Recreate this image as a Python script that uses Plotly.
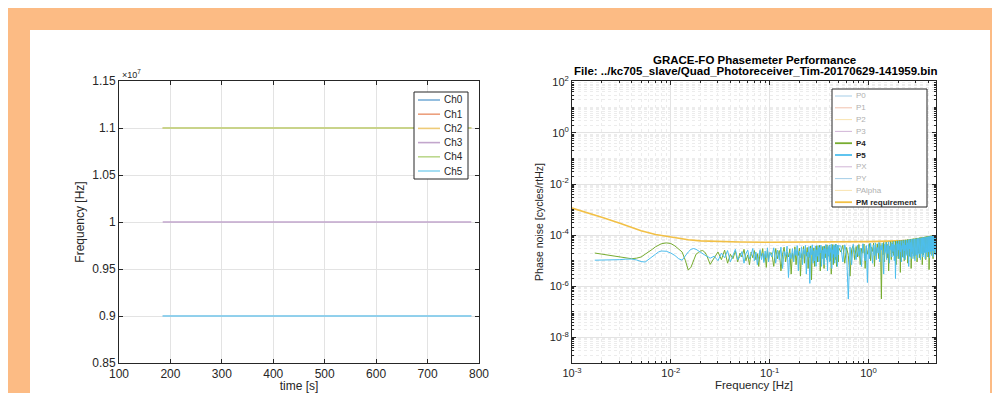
import plotly.graph_objects as go

# ---------------- data: left panel (channel frequencies) ----------------
channels = ["Ch0", "Ch1", "Ch2", "Ch3", "Ch4", "Ch5"]
time_s = [185, 285, 385, 485, 585, 685, 785]
ch_freq_hz = [9.0e6, 1.1e7, 1.1e7, 1.0e7, 1.1e7, 9.0e6]
left_y_ticks = [0.85e7, 0.9e7, 0.95e7, 1.0e7, 1.05e7, 1.1e7, 1.15e7]
left_y_ticktext = ["0.85", "0.9", "0.95", "1", "1.05", "1.1", "1.15"]

# ---------------- data: right panel (phase noise spectra) ----------------
freq_hz = [
    0.0017, 0.002, 0.0025, 0.003, 0.0035, 0.004, 0.0045, 0.005, 0.0055, 0.006,
    0.0065, 0.007, 0.0075, 0.008, 0.009, 0.01, 0.011, 0.012, 0.013, 0.014,
    0.015, 0.016, 0.017, 0.018, 0.019, 0.02, 0.021, 0.022, 0.023, 0.024, 0.025,
    0.0275, 0.03, 0.0325, 0.035, 0.0375, 0.04, 0.0425, 0.045, 0.0475, 0.05,
    0.0525, 0.055, 0.0575, 0.06, 0.0625, 0.065, 0.0675, 0.07, 0.0725, 0.075,
    0.0775, 0.08, 0.0825, 0.085, 0.0875, 0.09, 0.0925, 0.095, 0.0975, 0.1,
    0.105, 0.11, 0.115, 0.12, 0.125, 0.13, 0.135, 0.14, 0.145, 0.15,
    0.155, 0.16, 0.165, 0.17, 0.175, 0.18, 0.185, 0.19, 0.195, 0.2,
    0.205, 0.21, 0.215, 0.22, 0.225, 0.23, 0.235, 0.24, 0.245, 0.25,
    0.255, 0.26, 0.265, 0.27, 0.275, 0.28, 0.285, 0.29, 0.295, 0.3,
    0.305, 0.31, 0.315, 0.32, 0.325, 0.33, 0.335, 0.34, 0.345, 0.35,
    0.355, 0.36, 0.365, 0.37, 0.375, 0.38, 0.385, 0.39, 0.395, 0.4,
    0.405, 0.41, 0.415, 0.42, 0.425, 0.43, 0.435, 0.44, 0.445, 0.45,
    0.455, 0.46, 0.465, 0.47, 0.475, 0.48, 0.485, 0.49, 0.495, 0.5,
    0.525, 0.55, 0.575, 0.6, 0.625, 0.65, 0.675, 0.7, 0.725, 0.75,
    0.775, 0.8, 0.825, 0.85, 0.875, 0.9, 0.925, 0.95, 0.975, 1.0,
    1.025, 1.05, 1.075, 1.1, 1.125, 1.15, 1.175, 1.2, 1.225, 1.25,
    1.275, 1.3, 1.325, 1.35, 1.375, 1.4, 1.425, 1.45, 1.475, 1.5,
    1.525, 1.55, 1.575, 1.6, 1.625, 1.65, 1.675, 1.7, 1.725, 1.75,
    1.775, 1.8, 1.825, 1.85, 1.875, 1.9, 1.925, 1.95, 1.975, 2.0,
    2.025, 2.05, 2.075, 2.1, 2.125, 2.15, 2.175, 2.2, 2.225, 2.25,
    2.275, 2.3, 2.325, 2.35, 2.375, 2.4, 2.425, 2.45, 2.475, 2.5,
    2.525, 2.55, 2.575, 2.6, 2.625, 2.65, 2.675, 2.7, 2.725, 2.75,
    2.775, 2.8, 2.825, 2.85, 2.875, 2.9, 2.925, 2.95, 2.975, 3.0,
    3.025, 3.05, 3.075, 3.1, 3.125, 3.15, 3.175, 3.2, 3.225, 3.25,
    3.275, 3.3, 3.325, 3.35, 3.375, 3.4, 3.425, 3.45, 3.475, 3.5,
    3.525, 3.55, 3.575, 3.6, 3.625, 3.65, 3.675, 3.7, 3.725, 3.75,
    3.775, 3.8, 3.825, 3.85, 3.875, 3.9, 3.925, 3.95, 3.975, 4.0,
    4.025, 4.05, 4.075, 4.1, 4.125, 4.15, 4.175, 4.2, 4.225, 4.25,
    4.275, 4.3, 4.325, 4.35, 4.375, 4.4, 4.425, 4.45, 4.475, 4.5,
    4.525, 4.55, 4.575, 4.6, 4.625, 4.65, 4.675, 4.7, 4.725, 4.75,
    4.775, 4.8, 4.825, 4.85, 4.875, 4.9, 4.925, 4.95, 4.975, 5.0,
]

p4_noise = [
    2.0e-5, 1.8e-5, 1.6e-5, 1.4e-5, 1.26e-5, 1.2e-5, 1.26e-5, 1.4e-5, 1.8e-5, 2.2e-5,
    2.8e-5, 3.5e-5, 4.2e-5, 4.6e-5, 5.0e-5, 4.7e-5, 3.8e-5, 2.8e-5, 2.2e-5, 1.05e-5,
    4.3e-6, 5.6e-6, 1.1e-5, 1.8e-5, 2.1e-5, 2.4e-5, 2.5e-5, 2.2e-5, 1.66e-5, 1.1e-5, 7.2e-6,
    1.3e-5, 2.2e-5, 1.1e-5, 2.6e-5, 8e-6, 1.8e-5, 1.2e-5, 2.4e-5, 9e-6, 2.0e-5,
    1.4e-5, 2.8e-5, 1.0e-5, 1.7e-5, 7e-6, 2.2e-5, 1.3e-5, 2.5e-5, 1.1e-5, 1.9e-5,
    6e-6, 2.3e-5, 1.5e-5, 3.0e-5, 1.0e-5, 1.8e-5, 5.5e-6, 2.6e-5, 1.2e-5, 2.0e-5,
    2.0e-5, 6e-6, 3.0e-5, 1.2e-5, 2.5e-5, 4e-6, 1.8e-5, 3.4e-5, 9e-6, 2.2e-5,
    1.4e-5, 2.9e-5, 3e-6, 2.0e-5, 1.1e-5, 3.5e-5, 7e-6, 2.4e-5, 1.6e-5, 3.1e-5,
    2.5e-6, 1.9e-5, 1.2e-5, 3.6e-5, 8e-6, 2.7e-5, 1.5e-5, 3.3e-5, 5e-6, 2.1e-5,
    1.3e-5, 3.8e-5, 1.8e-6, 2.6e-5, 1.0e-5, 3.2e-5, 6e-6, 2.3e-5, 1.4e-5, 3.9e-5,
    9e-6, 3.1e-5, 1.7e-5, 4.0e-5, 4e-6, 2.5e-5, 1.2e-5, 3.6e-5, 2.0e-5, 3.0e-5,
    5e-6, 3.7e-5, 1.3e-5, 2.8e-5, 2.2e-5, 4.2e-5, 8e-6, 3.3e-5, 1.5e-5, 2.6e-5,
    4.1e-5, 1.0e-5, 2.9e-5, 3e-6, 3.5e-5, 1.9e-5, 4.3e-5, 7e-6, 3.0e-5, 1.6e-5,
    3.8e-5, 1.1e-5, 4.4e-5, 2.4e-5, 6e-6, 3.4e-5, 1.8e-5, 4.0e-5, 9e-6, 3.2e-5,
    2.2e-5, 4.0e-5, 8e-6, 3.3e-5, 1.6e-5, 2.5e-6, 2.8e-5, 3.9e-5, 1.1e-5, 3.6e-5,
    1.4e-5, 4.3e-5, 7e-6, 3.0e-5, 2.0e-5, 4.5e-5, 5e-6, 3.7e-5, 1.8e-5, 2.9e-5,
    4.7e-5, 1.0e-5, 3.4e-5, 2.3e-5, 4.9e-5, 6e-6, 3.9e-5, 1.5e-5, 4.6e-5, 2.6e-5,
    1.2e-5, 5.0e-5, 2.8e-5, 3.2e-7, 4.2e-5, 1.7e-5, 5.2e-5, 9e-6, 3.5e-5, 2.4e-5,
    5.4e-5, 1.3e-5, 4.4e-5, 4e-6, 3.7e-5, 2.9e-5, 5.6e-5, 1.1e-5, 4.8e-5, 2.0e-5,
    5.8e-5, 1.6e-5, 3.9e-5, 2.7e-5, 5.9e-5, 7e-6, 4.3e-5, 3.1e-5, 6.0e-5, 1.2e-5,
    4.5e-5, 2.1e-5, 6.2e-5, 3.5e-6, 5.0e-5, 3.3e-5, 6.3e-5, 1.4e-5, 4.0e-5, 2.8e-5,
    6.5e-5, 1.0e-5, 5.3e-5, 2.3e-5, 6.6e-5, 1.8e-5, 4.6e-5, 3.4e-5, 6.8e-5, 8e-6,
    5.1e-5, 2.6e-5, 6.9e-5, 1.5e-5, 4.4e-5, 3.6e-5, 7.1e-5, 5e-6, 5.5e-5, 2.7e-5,
    7.2e-5, 1.9e-5, 4.8e-5, 3.8e-5, 7.4e-5, 1.2e-5, 5.7e-5, 2.9e-5, 7.5e-5, 1.6e-5,
    5.0e-5, 3.9e-5, 7.7e-5, 9e-6, 5.9e-5, 3.0e-5, 7.8e-5, 2.0e-5, 5.2e-5, 4.0e-5,
    8.0e-5, 1.3e-5, 6.1e-5, 3.2e-5, 8.1e-5, 2.1e-5, 5.4e-5, 4.2e-5, 8.3e-5, 7e-6,
    6.3e-5, 3.3e-5, 8.4e-5, 1.7e-5, 5.6e-5, 4.3e-5, 8.6e-5, 2.2e-5, 6.5e-5, 3.4e-5,
    8.7e-5, 1.1e-5, 5.8e-5, 4.5e-5, 8.9e-5, 2.3e-5, 6.7e-5, 3.5e-5, 9.0e-5, 1.4e-5,
    6.0e-5, 4.6e-5, 9.2e-5, 4.5e-6, 6.9e-5, 3.6e-5, 9.3e-5, 2.4e-5, 6.2e-5, 4.8e-5,
    9.5e-5, 1.8e-5, 7.1e-5, 3.8e-5, 9.6e-5, 2.5e-5, 6.4e-5, 4.9e-5, 9.7e-5, 1.2e-5,
    7.3e-5, 3.9e-5, 9.9e-5, 2.6e-5, 6.6e-5, 5.0e-5, 1.0e-4, 1.9e-5, 7.5e-5, 4.0e-5,
    1.0e-4, 2.7e-5, 6.8e-5, 5.1e-5, 1.0e-4, 1.5e-5, 7.7e-5, 4.1e-5, 1.0e-4, 2.8e-5,
]

p5_noise = [
    1.05e-5, 1.05e-5, 1.05e-5, 1.1e-5, 1.15e-5, 1.17e-5, 1.07e-5, 9.3e-6, 8.9e-6, 1.12e-5,
    1.4e-5, 1.8e-5, 2.2e-5, 2.4e-5, 2.35e-5, 2.0e-5, 1.6e-5, 1.2e-5, 1.05e-5, 1.6e-5,
    2.2e-5, 2.8e-5, 3.0e-5, 2.8e-5, 2.4e-5, 2.2e-5, 1.9e-5, 1.66e-5, 1.5e-5, 1.4e-5, 1.26e-5,
    1.5e-5, 1.0e-5, 2.0e-5, 1.3e-5, 2.5e-5, 9e-6, 1.6e-5, 2.8e-5, 1.1e-5, 1.4e-5,
    2.3e-5, 8e-6, 1.9e-5, 2.6e-5, 1.2e-5, 1.7e-5, 3.0e-5, 1.0e-5, 2.2e-5, 7e-6,
    1.5e-5, 2.7e-5, 1.1e-5, 2.0e-5, 8.5e-6, 2.4e-5, 1.3e-5, 3.2e-5, 9e-6, 2.1e-5,
    1.4e-5, 3.2e-5, 8e-6, 2.6e-5, 1.1e-5, 3.4e-5, 5e-6, 2.3e-5, 1.5e-5, 3.7e-5,
    2.2e-6, 2.0e-5, 1.2e-5, 3.0e-5, 9e-6, 2.8e-5, 1.6e-5, 3.9e-5, 4e-6, 2.4e-5,
    1.3e-5, 3.5e-5, 7e-6, 2.9e-5, 1.8e-5, 4.0e-5, 3e-6, 2.2e-5, 1.4e-5, 3.6e-5,
    1.3e-6, 3.1e-5, 1.7e-5, 4.2e-5, 8e-6, 2.5e-5, 1.0e-5, 3.8e-5, 6e-6, 2.7e-5,
    1.5e-5, 3.9e-5, 9e-6, 3.3e-5, 2.0e-5, 4.1e-5, 6e-6, 2.6e-5, 1.2e-5, 3.7e-5,
    7e-6, 3.0e-5, 1.9e-5, 4.3e-5, 1.1e-5, 2.8e-5, 4e-6, 3.6e-5, 1.6e-5, 4.0e-5,
    9e-6, 3.2e-5, 2.1e-5, 4.4e-5, 5e-6, 2.7e-5, 1.3e-5, 3.9e-5, 1.8e-5, 4.2e-5,
    8e-6, 3.4e-5, 1.4e-5, 4.5e-5, 2.2e-5, 3.1e-5, 6e-6, 4.1e-5, 1.7e-5, 3.8e-5,
    3.8e-5, 9e-6, 4.2e-5, 2.0e-5, 3.2e-7, 3.5e-5, 7e-6, 4.4e-5, 1.8e-5, 1.1e-5,
    4.0e-5, 1.5e-5, 3.1e-5, 6e-6, 4.6e-5, 2.2e-5, 1.0e-5, 3.9e-5, 1.4e-6, 4.3e-5,
    1.2e-5, 4.8e-5, 2.5e-5, 8e-6, 4.1e-5, 1.6e-5, 5.0e-5, 1.1e-5, 3.3e-5, 2.0e-5,
    5.2e-5, 9e-6, 3.8e-5, 2.6e-5, 4.9e-5, 1.3e-5, 3.0e-6, 4.4e-5, 2.1e-5, 5.3e-5,
    1.1e-5, 4.0e-5, 1.9e-5, 5.5e-5, 8e-6, 3.6e-5, 2.7e-5, 5.1e-5, 1.4e-5, 4.5e-5,
    2.3e-5, 5.7e-5, 1.0e-5, 4.2e-5, 2.0e-6, 3.4e-5, 5.8e-5, 1.5e-5, 4.7e-5, 2.6e-5,
    6.0e-5, 1.2e-5, 4.4e-5, 2.2e-5, 6.1e-5, 9e-6, 3.9e-5, 2.8e-5, 6.2e-5, 1.3e-5,
    4.8e-5, 2.4e-5, 6.4e-5, 1.1e-5, 4.1e-5, 3.0e-5, 6.5e-5, 1.6e-5, 5.0e-5, 2.5e-5,
    6.6e-5, 6e-6, 4.6e-5, 2.9e-5, 6.8e-5, 1.4e-5, 5.2e-5, 2.2e-5, 6.9e-5, 1.2e-5,
    4.3e-5, 3.2e-5, 7.0e-5, 1.5e-5, 5.4e-5, 2.6e-5, 7.1e-5, 1.0e-5, 4.9e-5, 3.3e-5,
    7.3e-5, 1.7e-5, 5.6e-5, 2.4e-5, 7.4e-5, 1.3e-5, 4.5e-5, 3.5e-5, 7.5e-5, 1.8e-5,
    5.8e-5, 2.8e-5, 7.7e-5, 1.1e-5, 5.1e-5, 3.6e-5, 7.8e-5, 1.9e-5, 6.0e-5, 2.7e-5,
    8.0e-5, 1.4e-5, 5.5e-5, 3.8e-5, 8.1e-5, 2.0e-5, 6.2e-5, 2.9e-5, 8.3e-5, 1.2e-5,
    5.3e-5, 4.0e-5, 8.5e-5, 2.1e-5, 6.4e-5, 3.1e-5, 8.6e-5, 1.5e-5, 5.7e-5, 4.1e-5,
    8.8e-5, 2.2e-5, 6.6e-5, 3.2e-5, 8.9e-5, 1.3e-5, 5.9e-5, 4.3e-5, 9.1e-5, 2.3e-5,
    6.8e-5, 3.4e-5, 9.2e-5, 1.6e-5, 6.1e-5, 4.4e-5, 9.4e-5, 2.4e-5, 7.0e-5, 3.5e-5,
    9.5e-5, 1.4e-5, 6.3e-5, 4.6e-5, 9.7e-5, 2.5e-5, 7.2e-5, 3.6e-5, 9.8e-5, 1.7e-5,
    6.5e-5, 4.7e-5, 1.0e-4, 2.6e-5, 7.4e-5, 3.7e-5, 1.0e-4, 1.5e-5, 6.7e-5, 4.8e-5,
]

req_freq_hz = [0.001, 0.0015, 0.002, 0.003, 0.004, 0.005, 0.007, 0.01, 0.015, 0.02,
               0.03, 0.05, 0.1, 0.2, 0.5, 1.0, 2.0, 5.0]
req_noise = [1.15e-3, 7.2e-4, 5.0e-4, 3.0e-4, 2.0e-4, 1.5e-4, 1.07e-4, 8.3e-5, 6.6e-5, 6.0e-5,
             5.6e-5, 5.4e-5, 5.25e-5, 5.25e-5, 5.4e-5, 5.6e-5, 6.0e-5, 6.6e-5]

right_legend_names = ["P0", "P1", "P2", "P3", "P4", "P5", "PX", "PY", "PAlpha", "PM requirement"]
right_legend_shown = [False, False, False, False, True, True, False, False, False, True]

# ---------------- styling ----------------
# The page body keeps its default 8px margin, so the figure is sized to fill the
# rest of the 1000x401 window and screen pixels are mapped into figure space.
OFF = 8
W, H = 1000 - 2 * OFF, 401 - 2 * OFF
ch_colors = ["#7aaed8", "#eca07e", "#eecb78", "#c2a6cc", "#bcd88e", "#8fd6f0"]
right_colors = ["#0072BD", "#D95319", "#EDB120", "#7E2F8E", "#77AC30", "#4DBEEE",
                "#7E2F8E", "#0072BD", "#EDB120", "#F2C046"]
ORANGE = "#FCBB84"
FONT = "Liberation Sans, Arial, sans-serif"
AXC = "#262626"


def px(x):
    return (x - OFF) / W


def py(y):
    return 1 - (y - OFF) / H


fig = go.Figure()

for name, val, col in zip(channels, ch_freq_hz, ch_colors):
    fig.add_trace(go.Scatter(x=time_s, y=[val] * len(time_s), mode="lines", name=name,
                             line=dict(color=col, width=1.6), xaxis="x", yaxis="y",
                             showlegend=False))

fig.add_trace(go.Scatter(x=req_freq_hz, y=req_noise, mode="lines", name="PM requirement",
                         line=dict(color=right_colors[9], width=1.6), xaxis="x2", yaxis="y2",
                         showlegend=False))
fig.add_trace(go.Scatter(x=freq_hz, y=p4_noise, mode="lines", name="P4",
                         line=dict(color=right_colors[4], width=1), xaxis="x2", yaxis="y2",
                         showlegend=False))
fig.add_trace(go.Scatter(x=freq_hz, y=p5_noise, mode="lines", name="P5",
                         line=dict(color=right_colors[5], width=1), xaxis="x2", yaxis="y2",
                         showlegend=False))

ydom = [py(363), py(81)]

common = dict(showline=True, linecolor=AXC, linewidth=1, mirror="ticks", ticks="inside",
              ticklen=4, tickcolor=AXC, gridcolor="#e3e3e3", gridwidth=1, zeroline=False)
left_tickfont = dict(family=FONT, size=12, color=AXC)
right_tickfont = dict(family=FONT, size=11, color=AXC)

minor_x = [m * 10 ** e for e in (-3, -2, -1, 0) for m in range(2, 10) if m * 10 ** e <= 5]
minor_y = [m * 10.0 ** e for e in range(-9, 2) for m in range(1, 10) if not (m == 1 and e % 2 == 0)]
major_y = [10.0 ** e for e in range(-8, 3, 2)]
major_y_text = ["10<sup>%d</sup>" % e for e in range(-8, 3, 2)]

fig.update_layout(
    width=W, height=H, margin=dict(l=0, r=0, t=0, b=0, autoexpand=False),
    paper_bgcolor="white", plot_bgcolor="white", showlegend=False,
    font=dict(family=FONT, color=AXC),
    xaxis=dict(domain=[px(119), px(479)], range=[100, 800], dtick=100, anchor="y",
               tickfont=left_tickfont,
               title=dict(text="time [s]", font=dict(size=12, color=AXC), standoff=1), **common),
    yaxis=dict(domain=ydom, range=[0.85e7, 1.15e7], tickvals=left_y_ticks,
               ticktext=left_y_ticktext, anchor="x", tickfont=left_tickfont,
               title=dict(text="Frequency [Hz]", font=dict(size=12, color=AXC), standoff=5), **common),
    xaxis2=dict(domain=[px(572), px(936)], type="log", range=[-3, 0.683], anchor="y2",
                tickfont=right_tickfont,
                tickvals=[1e-3, 1e-2, 1e-1, 1], ticktext=["10<sup>-3</sup>", "10<sup>-2</sup>",
                                                          "10<sup>-1</sup>", "10<sup>0</sup>"],
                minor=dict(tickvals=minor_x, ticks="inside", ticklen=2, tickcolor=AXC,
                           showgrid=True, gridcolor="#ececec", griddash="dot"),
                title=dict(text="Frequency [Hz]", font=dict(size=11.5, color=AXC), standoff=2), **common),
    yaxis2=dict(domain=ydom, type="log", range=[-9, 2.03], anchor="x2",
                tickfont=right_tickfont, tickvals=major_y, ticktext=major_y_text,
                minor=dict(tickvals=minor_y, ticks="inside", ticklen=2, tickcolor=AXC,
                           showgrid=True, gridcolor="#ececec", griddash="dot"),
                title=dict(text="Phase noise [cycles/rtHz]", font=dict(size=10.5, color=AXC), standoff=4),
                **common),
)

shapes = [
    dict(type="rect", xref="paper", yref="paper", x0=px(6), x1=px(1002), y0=py(403), y1=py(6),
         fillcolor=ORANGE, line=dict(width=0), layer="below"),
    dict(type="rect", xref="paper", yref="paper", x0=px(30), x1=px(990), y0=py(403), y1=py(30),
         fillcolor="white", line=dict(width=0), layer="below"),
]
annotations = []

# left legend (compact MATLAB-like box)
shapes.append(dict(type="rect", xref="paper", yref="paper", x0=px(414), x1=px(468),
                   y0=py(179), y1=py(92), fillcolor="white", line=dict(color=AXC, width=1)))
for i, (name, col) in enumerate(zip(channels, ch_colors)):
    yy = 100 + i * 14.2
    shapes.append(dict(type="line", xref="paper", yref="paper", x0=px(418), x1=px(440),
                       y0=py(yy), y1=py(yy), line=dict(color=col, width=1.6)))
    annotations.append(dict(xref="paper", yref="paper", x=px(442), y=py(yy), text=name,
                            showarrow=False, xanchor="left", yanchor="middle",
                            font=dict(size=10, color=AXC, family=FONT)))

# right legend
shapes.append(dict(type="rect", xref="paper", yref="paper", x0=px(832), x1=px(927),
                   y0=py(207), y1=py(89), fillcolor="white", line=dict(color=AXC, width=1)))
for i, (name, shown) in enumerate(zip(right_legend_names, right_legend_shown)):
    yy = 96 + i * 11.8
    col = right_colors[i]
    shapes.append(dict(type="line", xref="paper", yref="paper", x0=px(835), x1=px(852),
                       y0=py(yy), y1=py(yy),
                       line=dict(color=col, width=1.8 if shown else 1), opacity=1 if shown else 0.35))
    annotations.append(dict(xref="paper", yref="paper", x=px(854), y=py(yy),
                            text=("<b>%s</b>" % name) if shown else name,
                            showarrow=False, xanchor="left", yanchor="middle",
                            font=dict(size=8, color=AXC if shown else "#b0b0b0", family=FONT)))

# exponent label of left y-axis
annotations.append(dict(xref="paper", yref="paper", x=px(120), y=py(74), text="\u00d710<sup>7</sup>",
                        showarrow=False, xanchor="left", yanchor="middle",
                        font=dict(size=9, color=AXC, family=FONT)))
# right title
annotations.append(dict(xref="paper", yref="paper", x=px(754), y=py(60),
                        text="<b>GRACE-FO Phasemeter Performance</b>", showarrow=False,
                        xanchor="center", yanchor="middle", font=dict(size=11.5, color="#000", family=FONT)))
annotations.append(dict(xref="paper", yref="paper", x=px(756), y=py(71),
                        text="<b>File: ../kc705_slave/Quad_Photoreceiver_Tim-20170629-141959.bin</b>",
                        showarrow=False, xanchor="center", yanchor="middle",
                        font=dict(size=11.5, color="#000", family=FONT)))

fig.update_layout(shapes=shapes, annotations=annotations)
fig.write_html("out.html", config={"displayModeBar": False})
